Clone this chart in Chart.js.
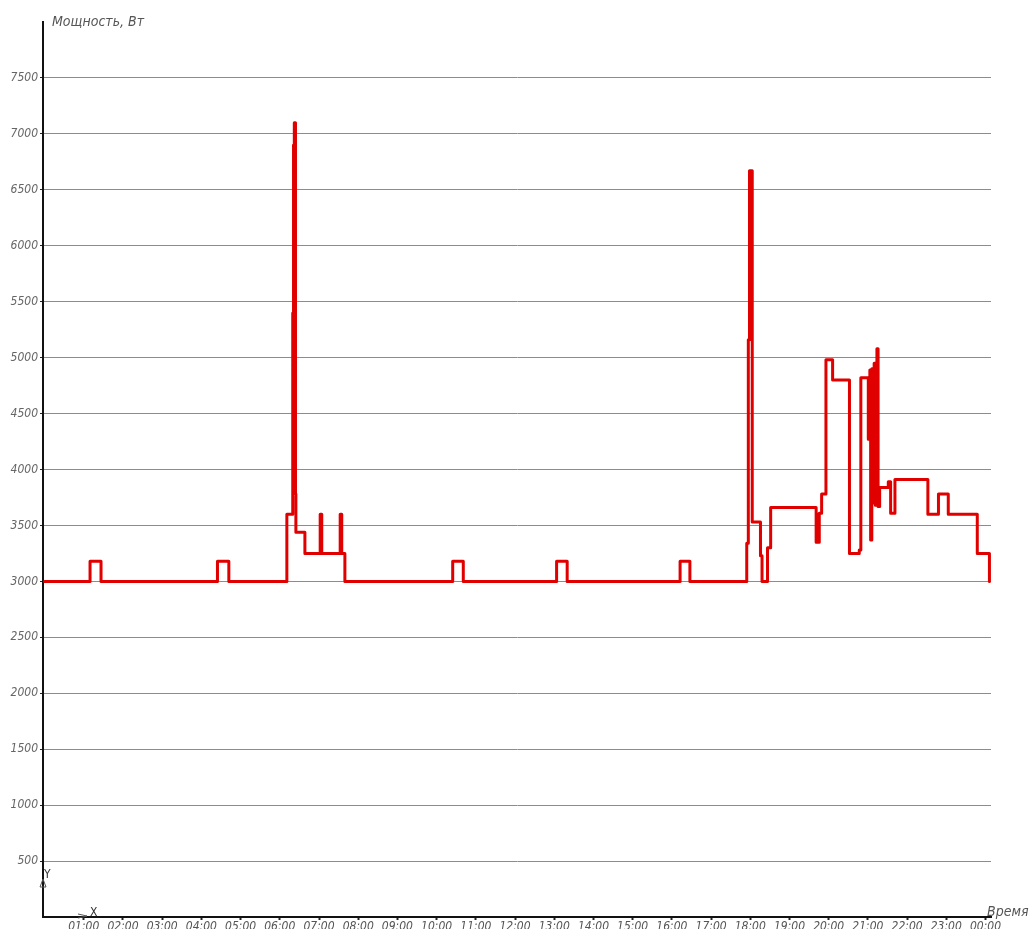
<!DOCTYPE html>
<html>
<head>
<meta charset="utf-8">
<script src="https://cdn.jsdelivr.net/npm/chart.js@4"></script>
<style>
  body { margin: 0; background: #fff; }
  canvas { display: block; }
</style>
</head>
<body>
<canvas id="powerChart" width="1029" height="929"></canvas>
<script>
// время (часы) и мощность (Вт) — ступенчатый график, значение меняется в момент времени
const times = [
  0, 1.16, 1.44, 4.41, 4.70, 6.18, 6.33, 6.35, 6.37, 6.40, 6.41, 6.64,
  7.03, 7.07, 7.54, 7.58, 7.66, 10.41, 10.68, 13.06, 13.33, 16.21, 16.46,
  17.91, 17.95, 17.98, 18.05, 18.26, 18.30, 18.44, 18.52, 19.68, 19.70,
  19.72, 19.76, 19.82, 19.93, 20.10, 20.53, 20.78, 20.82, 21.01, 21.05,
  21.07, 21.10, 21.13, 21.16, 21.19, 21.23, 21.26, 21.30, 21.52, 21.58,
  21.69, 22.53, 22.80, 23.05, 23.79, 24.10
];
const power = [
  3000, 3180, 3000, 3180, 3000, 3600, 5400, 6900, 7100, 3780, 3440, 3250,
  3600, 3250, 3600, 3250, 3000, 3180, 3000, 3180, 3000, 3180, 3000,
  3340, 5160, 6670, 3530, 3230, 3000, 3300, 3660, 3350, 3600,
  3350, 3610, 3780, 4980, 4800, 3250, 3280, 4820, 4270, 4890,
  3370, 4900, 3700, 4950, 3680, 5080, 3670, 3840, 3890, 3610,
  3910, 3600, 3780, 3600, 3250, 3000
];
const hourTicks = [1, 2, 3, 4, 5, 6, 7, 8, 9, 10, 11, 12, 13, 14, 15, 16, 17, 18, 19, 20, 21, 22, 23, 24];
const hourLabels = ["01:00", "02:00", "03:00", "04:00", "05:00", "06:00", "07:00", "08:00",
  "09:00", "10:00", "11:00", "12:00", "13:00", "14:00", "15:00", "16:00", "17:00", "18:00",
  "19:00", "20:00", "21:00", "22:00", "23:00", "00:00"];
const powerTicks = [500, 1000, 1500, 2000, 2500, 3000, 3500, 4000, 4500, 5000, 5500, 6000, 6500, 7000, 7500];

const FONT = "'Liberation Sans Narrow', 'DejaVu Sans Condensed', sans-serif";

// подписи осей в стиле чертежа
const axisCaptions = {
  id: "axisCaptions",
  afterDraw(chart) {
    const ctx = chart.ctx;
    const area = chart.chartArea;
    ctx.save();
    ctx.fillStyle = "#555";
    ctx.font = "italic 14px " + FONT;
    ctx.textBaseline = "alphabetic";
    ctx.fillText("Мощность, Вт", area.left + 9, area.top + 4);
    ctx.fillText("Время", 987, area.bottom - 1);

    ctx.fillStyle = "#333";
    ctx.font = "12px " + FONT;
    ctx.fillText("Y", area.left + 1, area.bottom - 39);
    ctx.fillText("X", area.left + 47, area.bottom - 1);
    ctx.strokeStyle = "#555";
    ctx.lineWidth = 1;
    ctx.beginPath();
    ctx.moveTo(area.left - 3, area.bottom - 30);
    ctx.lineTo(area.left, area.bottom - 38);
    ctx.lineTo(area.left + 3, area.bottom - 30);
    ctx.closePath();
    ctx.moveTo(area.left + 35, area.bottom - 3);
    ctx.lineTo(area.left + 44, area.bottom - 1);
    ctx.lineTo(area.left + 35, area.bottom + 1);
    ctx.stroke();
    ctx.restore();
  }
};

window.onload = function () {
  var ctx = document.getElementById("powerChart").getContext("2d");
  new Chart(ctx, {
    type: "line",
    data: {
      datasets: [
        {
          label: "Мощность",
          data: times.map((t, i) => ({ x: t, y: power[i] })),
          stepped: true,
          borderColor: "#e00000",
          borderWidth: 3,
          borderJoinStyle: "round",
          borderCapStyle: "round",
          pointRadius: 0,
          fill: false,
        },
      ],
    },
    options: {
      responsive: false,
      animation: false,
      layout: { autoPadding: false, padding: { top: 22, right: 38, left: 0, bottom: 0 } },
      plugins: { legend: { display: false }, tooltip: { enabled: false } },
      scales: {
        x: {
          type: "linear",
          min: -0.04,
          max: 24.14,
          afterBuildTicks: (scale) => {
            scale.ticks = hourTicks.map((h) => ({ value: h }));
          },
          afterFit: (scale) => {
            scale.height = 12;
          },
          ticks: {
            autoSkip: false,
            maxRotation: 0,
            padding: 0,
            color: "#555",
            font: { family: FONT, size: 12, style: "italic" },
            callback: (v) => hourLabels[hourTicks.indexOf(v)],
          },
          grid: { drawOnChartArea: false, tickLength: 3, tickColor: "#222", tickWidth: 2 },
          border: { color: "#111", width: 2 },
        },
        y: {
          min: 0,
          max: 8000,
          afterBuildTicks: (scale) => {
            scale.ticks = powerTicks.map((v) => ({ value: v }));
          },
          afterFit: (scale) => {
            scale.width = 43;
          },
          ticks: {
            padding: 2,
            color: "#666",
            font: { family: FONT, size: 12, style: "italic" },
            callback: (v) => String(v),
          },
          grid: { color: "#8c8c8c", lineWidth: 1, tickLength: 3, tickColor: "#222" },
          border: { color: "#111", width: 2 },
        },
      },
    },
    plugins: [axisCaptions],
  });
};
</script>
</body>
</html>
